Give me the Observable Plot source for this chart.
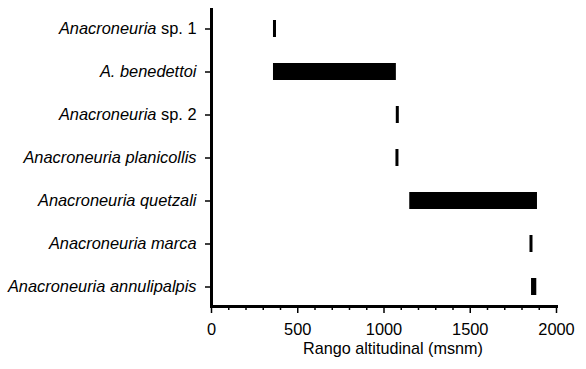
<!DOCTYPE html>
<html>
<head>
<meta charset="utf-8">
<script src="https://cdn.jsdelivr.net/npm/d3@7"></script>
<script src="https://cdn.jsdelivr.net/npm/@observablehq/plot@0.6"></script>
<style>
  html, body { margin: 0; padding: 0; background: #fff; }
  svg { font-family: "Liberation Sans", Arial, sans-serif; }
</style>
</head>
<body>
<div id="chart"></div>
<script>
const species = [
  "Anacroneuria sp. 1",
  "A. benedettoi",
  "Anacroneuria sp. 2",
  "Anacroneuria planicollis",
  "Anacroneuria quetzali",
  "Anacroneuria marca",
  "Anacroneuria annulipalpis"
];
const minAlt = [368, 368, 1080, 1078, 1158, 1855, 1864];
const maxAlt = [368, 1063, 1080, 1078, 1881, 1855, 1877];
const majorTicks = [0, 500, 1000, 1500, 2000];
const minorTicks = d3.range(0, 2001, 100).filter(d => d % 500 !== 0);
const xLabel = "Rango altitudinal (msnm)";

const data = species.map((s, i) => ({species: s, lo: minAlt[i], hi: maxAlt[i]}));

const chart = Plot.plot({
  width: 586,
  height: 369,
  marginLeft: 211,
  marginRight: 30,
  marginTop: 9,
  marginBottom: 63,
  style: {fontFamily: "'Liberation Sans', Arial, sans-serif", fontSize: "16px", color: "#000", background: "#fff"},
  x: {domain: [0, 2000]},
  y: {domain: species, paddingInner: 0.6, paddingOuter: 0.24},
  marks: [
    Plot.rectX(data, {y: "species", x1: "lo", x2: "hi", fill: "#000", insetLeft: -1.5, insetRight: -1.5}),
    Plot.axisY({tickSize: 6, tickPadding: 9, tickFormat: d => d, fontSize: 16.4, fontStyle: "italic", strokeWidth: 1.5, label: null}),
    Plot.axisX({ticks: majorTicks, tickSize: 7, tickPadding: 10, tickFormat: d => String(d), fontSize: 16.4, strokeWidth: 1.5, label: null}),
    Plot.axisX({ticks: minorTicks, tickSize: 4, text: null, strokeWidth: 1.5, label: null}),
    Plot.frame({anchor: "left", strokeWidth: 3, stroke: "#000", strokeLinecap: "square"}),
    Plot.frame({anchor: "bottom", strokeWidth: 3, stroke: "#000", strokeLinecap: "square"}),
    Plot.text([xLabel], {frameAnchor: "bottom", lineAnchor: "middle", dy: 42, dx: 9, fontSize: 16.2, fill: "#000"})
  ]
});

// mixed italic / upright tick labels
d3.select(chart).selectAll('[aria-label="y-axis tick label"] text').each(function() {
  const t = this.textContent;
  const m = t.match(/^(.*?)( sp\. \d+)$/);
  if (m) {
    const el = d3.select(this);
    el.text(null);
    el.append("tspan").text(m[1]);
    el.append("tspan").attr("font-style", "normal").text(m[2]);
  }
});

document.getElementById("chart").appendChild(chart);
</script>
</body>
</html>
